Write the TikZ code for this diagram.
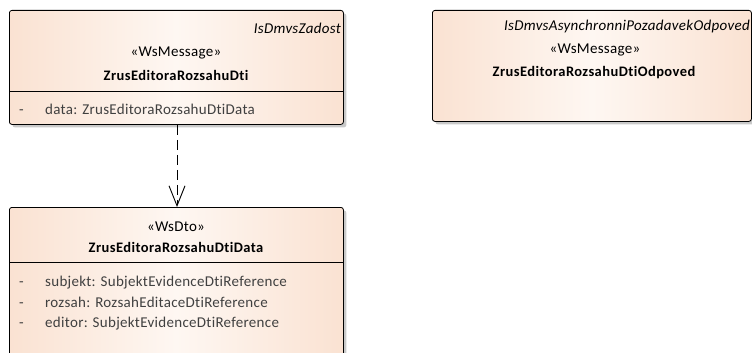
\documentclass[tikz,border=0pt]{standalone}
\usepackage{fontspec}
\setmainfont{Carlito}
\newfontfamily\umlfont[LetterSpace=2, Ligatures={NoCommon}]{Carlito}
\newfontfamily\umlbold[LetterSpace=3, Ligatures={NoCommon}]{Carlito Bold}
\usepackage{tikz}
\usetikzlibrary{positioning,shadows,arrows.meta}

\definecolor{peach}{RGB}{250,226,210}
\definecolor{peachlight}{RGB}{254,247,242}

\begin{document}
\begin{tikzpicture}[x=1pt, y=-1pt,
    classbox/.style={draw=black, line width=0.8pt, rounded corners=2.5pt, anchor=north west,
        left color=peach, right color=peach, middle color=peachlight,
        drop shadow={shadow xshift=3pt, shadow yshift=-3pt, fill=black!30, opacity=0.7}},
    stereo/.style={font=\umlfont\fontsize{15}{17}\selectfont, inner sep=0pt},
    classname/.style={font=\umlbold\fontsize{14.5}{17}\selectfont, inner sep=0pt},
    parent/.style={font=\umlfont\fontsize{15}{17}\selectfont\itshape, inner sep=0pt, anchor=east},
    attr/.style={font=\umlfont\fontsize{15}{17}\selectfont, inner sep=0pt, anchor=base west, text=black!75},
    sep/.style={line width=0.8pt}]
    \useasboundingbox (0,0) rectangle (752,353);

    % Zadost
    \node[classbox, minimum width=334pt, minimum height=114pt] (zadost) at (9,10) {};
    \node[parent] (zadostparent) at (341,28) {IsDmvsZadost};
    \node[stereo] (zadoststereo) at (176,53) {«WsMessage»};
    \node[classname] (zadostname) at (176,75) {ZrusEditoraRozsahuDti};
    \draw[sep] (9,91) -- (343,91);
    \node[attr] (zadostminus) at (19,114) {-};
    \node[attr] (zadostattr) at (45,114) {data: ZrusEditoraRozsahuDtiData};

    % Odpoved
    \node[classbox, minimum width=319pt, minimum height=111pt] (odpoved) at (432,10) {};
    \node[parent] (odpovedparent) at (750,27) {IsDmvsAsynchronniPozadavekOdpoved};
    \node[stereo] (odpovedstereo) at (595,50) {«WsMessage»};
    \node[classname] (odpovedname) at (594,73) {ZrusEditoraRozsahuDtiOdpoved};

    % Data
    \node[classbox, minimum width=334pt, minimum height=160pt] (data) at (9,207) {};
    \node[stereo] (datastereo) at (176,227) {«WsDto»};
    \node[classname] (dataname) at (176,247) {ZrusEditoraRozsahuDtiData};
    \draw[sep] (9,262) -- (343,262);
    \foreach \y/\t in {286/{subjekt: SubjektEvidenceDtiReference},
                       307/{rozsah: RozsahEditaceDtiReference},
                       327/{editor: SubjektEvidenceDtiReference}} {
        \node[attr] at (19,\y) {-};
        \node[attr] at (45,\y) {\t};
    }

    % Zavislost
    \draw[line width=0.9pt, dash pattern=on 10pt off 5pt, -{Straight Barb[length=20pt, width=16pt, line width=0.9pt]}]
        (zadost.south -| 177,0) -- (data.north -| 177,0);
\end{tikzpicture}
\end{document}
